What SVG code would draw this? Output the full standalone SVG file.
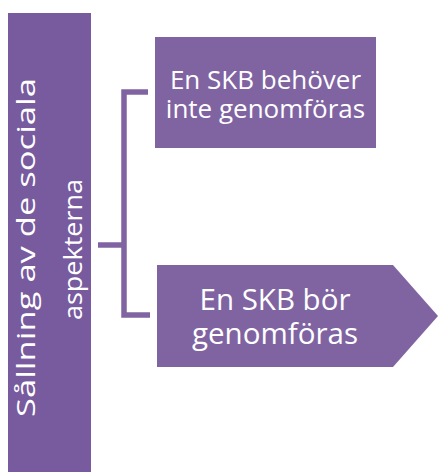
<svg xmlns="http://www.w3.org/2000/svg" width="438" height="472" viewBox="0 0 438 472">
<style>
.box{fill:#8064A2}
.bar{fill:#775B9E}
.t{fill:#ffffff;font-family:"Open Sans","Noto Sans",sans-serif;text-anchor:middle}
.conn{fill:none;stroke:#8064A2;stroke-width:5.5}
</style>
<rect width="438" height="472" fill="#ffffff"/>
<g id="main">
<rect class="bar" x="8" y="13" width="83" height="459"/>
<text class="t" font-size="25" transform="translate(35,247.5) rotate(-90)" textLength="339" lengthAdjust="spacingAndGlyphs">Sållning av de sociala</text>
<text class="t" font-size="26" transform="translate(82,249.5) rotate(-90)" textLength="141" lengthAdjust="spacingAndGlyphs">aspekterna</text>
</g>
<g id="connectors">
<path class="conn" d="M148,92 H124 V315 H150"/>
<path class="conn" d="M98,245 H124"/>
</g>
<g id="option1">
<rect class="box" x="155" y="37" width="221" height="111"/>
<text class="t" font-size="26"><tspan x="265.5" y="89">En SKB behöver</tspan><tspan x="265.5" y="118">inte genomföras</tspan></text>
</g>
<g id="option2">
<polygon class="box" points="157,265 393,265 438,316 393,367 157,367"/>
<text class="t" font-size="29.5"><tspan x="275" y="310">En SKB bör</tspan><tspan x="275" y="344">genomföras</tspan></text>
</g>
</svg>
